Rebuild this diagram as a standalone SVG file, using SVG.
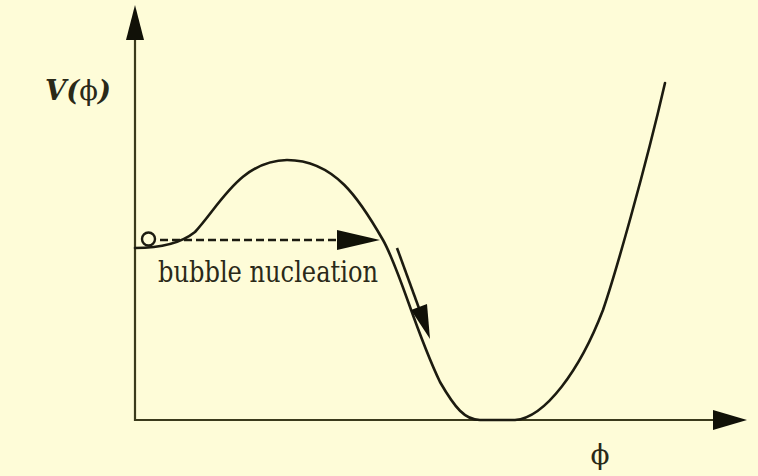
<svg xmlns="http://www.w3.org/2000/svg" width="758" height="476" viewBox="0 0 758 476">
<style>
.axis{stroke:#3b3a1c;stroke-width:2.2;fill:none}
.curve{stroke:#1c1b10;stroke-width:2.6;fill:none;stroke-linecap:round;stroke-linejoin:round}
.head{fill:#111108;stroke:none}
.lbl{fill:#2a2918;font-family:"DejaVu Serif","Liberation Serif",serif}
</style>
<rect x="0" y="0" width="758" height="476" fill="#FEFCD8"/>
<g id="axes">
<line class="axis" x1="135" y1="30" x2="135" y2="421"/>
<line class="axis" x1="134" y1="420" x2="720" y2="420"/>
<polygon class="head" points="135,5 126,40 144,40"/>
<polygon class="head" points="747,420 713,410 713,430"/>
</g>
<g id="potential">
<path class="curve" d="M135,248 C160,248 180,244 195,232 C220,205 240,161 287,160 C335,160 360,200 383,240 C400,270 415,330 440,382 C455,408 465,420 480,420 L515,420 C545,418 580,370 603,310 C615,275 645,170 665,83"/>
</g>
<g id="ball">
<circle cx="148.5" cy="239" r="6.5" fill="none" stroke="#1c1b10" stroke-width="2.4"/>
</g>
<g id="connectors">
<line x1="160" y1="240" x2="340" y2="240" stroke="#1c1b10" stroke-width="2.6" stroke-dasharray="8,4"/>
<polygon class="head" points="380,240 337,230 337,250"/>
<line x1="397" y1="248" x2="420" y2="311" stroke="#1c1b10" stroke-width="2.6"/>
<polygon class="head" points="430,339 411,310 427,304"/>
</g>
<g id="labels">
<text class="lbl" x="45" y="100" font-size="28" font-style="italic" font-weight="bold" textLength="66" lengthAdjust="spacingAndGlyphs">V(<tspan font-style="normal" font-weight="normal">ϕ</tspan>)</text>
<text class="lbl" x="158" y="282" font-size="30" textLength="220" lengthAdjust="spacingAndGlyphs">bubble nucleation</text>
<text class="lbl" x="600" y="464" font-size="28" text-anchor="middle">ϕ</text>
</g>
</svg>
